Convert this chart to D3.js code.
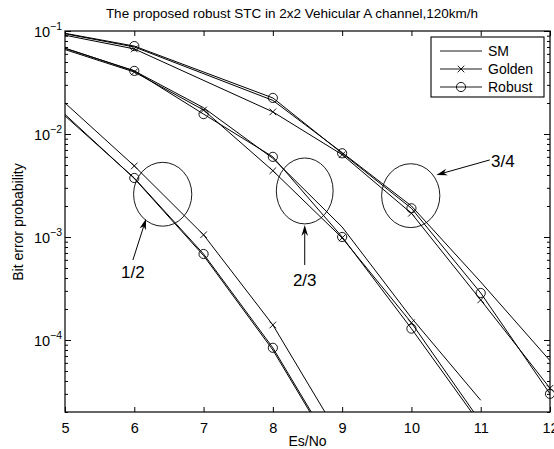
<!DOCTYPE html>
<html>
<head>
<meta charset="utf-8">
<script src="https://cdn.jsdelivr.net/npm/d3@7"></script>
<style>
  body { margin: 0; background: #fff; }
  svg { font-family: "Liberation Sans", Arial, sans-serif; }
</style>
</head>
<body>
<svg id="chart"></svg>
<script>
// data
const snr34 = [5, 6, 8, 9, 10, 11, 12];
const sm34 = [0.094, 0.070, 0.0212, 0.0066, 0.0020, 3.66e-4, 6.3e-5];
const golden34 = [0.091, 0.067, 0.0164, 0.0063, 0.0017, 2.45e-4, 3.4e-5];
const robust34 = [0.095, 0.0714, 0.0224, 0.0065, 0.0019, 2.86e-4, 3.0e-5];

const snr23 = [5, 6, 7, 8, 9, 10, 11];
const sm23 = [0.068, 0.041, 0.018, 0.0058, 0.00125, 1.64e-4, 2.6e-5];
const golden23 = [0.066, 0.040, 0.0171, 0.0044, 0.00098, 1.47e-4, 1.6e-5];
const robust23 = [0.068, 0.041, 0.0156, 0.0060, 0.0010, 1.29e-4, 1.5e-5];

const snr12 = [5, 6, 7, 8, 9];
const sm12 = [0.0155, 0.0037, 6.6e-4, 8.0e-5, 6.0e-6];
const golden12 = [0.020, 0.0049, 0.00105, 1.4e-4, 1.05e-5];
const robust12 = [0.015, 0.00374, 6.84e-4, 8.4e-5, 6.3e-6];

const xTicks = [5, 6, 7, 8, 9, 10, 11, 12];
const yTicks = [1e-1, 1e-2, 1e-3, 1e-4];
const legendNames = ["SM", "Golden", "Robust"];

// annotations in data units (ellipse radii: x units / decades)
const ellipses = [
  { x: 6.41, y: 2.6e-3, rx: 0.42, ry: 0.31 },
  { x: 8.46, y: 2.8e-3, rx: 0.41, ry: 0.32 },
  { x: 9.99, y: 2.52e-3, rx: 0.42, ry: 0.31 },
];
const arrows = [
  { label: "1/2", x0: 5.98, y0: 5.98e-4, x1: 6.17, y1: 1.5e-3, lx: 5.98, ly: 4.0e-4, anchor: "middle" },
  { label: "2/3", x0: 8.46, y0: 5.35e-4, x1: 8.46, y1: 1.31e-3, lx: 8.46, ly: 3.34e-4, anchor: "middle" },
  { label: "3/4", x0: 11.13, y0: 5.6e-3, x1: 10.36, y1: 4.0e-3, lx: 11.15, ly: 4.79e-3, anchor: "start" },
];

const width = 554;
const height = 449;
const padLeft = 65, padRight = 550, padTop = 31, padBottom = 412;

const svg = d3.select("#chart").attr("width", width).attr("height", height);

const x = d3.scaleLinear().domain([5, 12]).range([padLeft, padRight]);
const y = d3.scaleLog().domain([2e-5, 0.1]).range([padBottom, padTop]);

svg.append("defs").append("clipPath").attr("id", "clip")
  .append("rect").attr("x", padLeft).attr("y", padTop)
  .attr("width", padRight - padLeft).attr("height", padBottom - padTop);

// title and axis labels
svg.append("text").attr("x", 292).attr("y", 18).attr("text-anchor", "middle")
  .attr("font-size", 13.5).text("The proposed robust STC in 2x2 Vehicular A channel,120km/h");
svg.append("text").attr("x", (padLeft + padRight) / 2).attr("y", 446).attr("text-anchor", "middle")
  .attr("font-size", 14).text("Es/No");
svg.append("text").attr("transform", "translate(23," + 222 + ") rotate(-90)")
  .attr("text-anchor", "middle").attr("font-size", 14).text("Bit error probability");

// axes, ticks inward
const minor = [];
[1e-5, 1e-4, 1e-3, 1e-2].forEach((d) => {
  for (let k = 2; k <= 9; k++) {
    if (d * k >= 2e-5) minor.push(d * k);
  }
});

const xAxis = d3.axisBottom(x).tickValues(xTicks).tickSizeInner(-5).tickSizeOuter(0)
  .tickPadding(11).tickFormat(d3.format("d"));
svg.append("g").attr("transform", "translate(0," + padBottom + ")").call(xAxis)
  .call((g) => g.selectAll("text").attr("font-size", 14.5));
svg.append("g").attr("transform", "translate(0," + padTop + ")")
  .call(d3.axisTop(x).tickValues(xTicks).tickSizeInner(-5).tickSizeOuter(0).tickFormat(""));

const yAxis = d3.axisLeft(y).tickValues(yTicks).tickSizeInner(-6).tickSizeOuter(0).tickPadding(3).tickFormat("");
svg.append("g").attr("transform", "translate(" + padLeft + ",0)").call(yAxis)
  .call((g) => g.selectAll(".tick").append("text")
    .attr("x", -3).attr("dy", "0.35em").attr("text-anchor", "end").attr("fill", "#000")
    .attr("font-size", 14.5)
    .each(function (d) {
      const t = d3.select(this);
      t.append("tspan").text("10");
      t.append("tspan").attr("dy", "-0.6em").attr("font-size", 10.5)
        .text("\u2212" + Math.round(-Math.log10(d)));
    }));
svg.append("g").attr("transform", "translate(" + padLeft + ",0)")
  .call(d3.axisLeft(y).tickValues(minor).tickSizeInner(-3).tickSizeOuter(0).tickFormat(""));
svg.append("g").attr("transform", "translate(" + padRight + ",0)")
  .call(d3.axisRight(y).tickValues(yTicks).tickSizeInner(-6).tickSizeOuter(0).tickFormat(""));
svg.append("g").attr("transform", "translate(" + padRight + ",0)")
  .call(d3.axisRight(y).tickValues(minor).tickSizeInner(-3).tickSizeOuter(0).tickFormat(""));
svg.selectAll(".domain").remove();
svg.selectAll(".tick line").attr("stroke", "#000");
svg.selectAll("g").attr("font-family", null);

svg.append("rect").attr("x", padLeft).attr("y", padTop)
  .attr("width", padRight - padLeft).attr("height", padBottom - padTop)
  .attr("fill", "none").attr("stroke", "#000").attr("stroke-width", 1.2);

// curves
const series = [
  { xs: snr34, ys: sm34, marker: "none" },
  { xs: snr34, ys: golden34, marker: "x" },
  { xs: snr34, ys: robust34, marker: "o" },
  { xs: snr23, ys: sm23, marker: "none" },
  { xs: snr23, ys: golden23, marker: "x" },
  { xs: snr23, ys: robust23, marker: "o" },
  { xs: snr12, ys: sm12, marker: "none" },
  { xs: snr12, ys: golden12, marker: "x" },
  { xs: snr12, ys: robust12, marker: "o" },
];

const line = d3.line().x((d) => x(d[0])).y((d) => y(d[1]));

const drawMarker = (g, type, px, py) => {
  if (type === "o") {
    g.append("circle").attr("cx", px).attr("cy", py).attr("r", 4.6)
      .attr("fill", "none").attr("stroke", "#000").attr("stroke-width", 0.9);
  } else if (type === "x") {
    const s = 3.3;
    g.append("path")
      .attr("d", `M${px - s},${py - s}L${px + s},${py + s}M${px - s},${py + s}L${px + s},${py - s}`)
      .attr("stroke", "#000").attr("stroke-width", 0.9);
  }
};

const plot = svg.append("g");
series.forEach((s) => {
  const pts = s.xs.map((v, i) => [v, s.ys[i]]);
  plot.append("path").datum(pts).attr("clip-path", "url(#clip)")
    .attr("d", line).attr("fill", "none").attr("stroke", "#000").attr("stroke-width", 1);
  pts.filter((p) => p[0] > 5 && p[1] >= 2e-5).forEach((p) => drawMarker(plot, s.marker, x(p[0]), y(p[1])));
});

// annotations
const decade = y(1e-3) - y(1e-2);
ellipses.forEach((e) => {
  svg.append("ellipse").attr("cx", x(e.x)).attr("cy", y(e.y))
    .attr("rx", x(e.x + e.rx) - x(e.x)).attr("ry", e.ry * decade)
    .attr("fill", "none").attr("stroke", "#000").attr("stroke-width", 0.9);
});
arrows.forEach((a) => {
  const x0 = x(a.x0), y0 = y(a.y0), x1 = x(a.x1), y1 = y(a.y1);
  const ang = Math.atan2(y1 - y0, x1 - x0);
  const L = 11, W = 3.3;
  const bx = x1 - L * Math.cos(ang), by = y1 - L * Math.sin(ang);
  const nx = -Math.sin(ang), ny = Math.cos(ang);
  const mx = x1 - 0.7 * L * Math.cos(ang), my = y1 - 0.7 * L * Math.sin(ang);
  svg.append("line").attr("x1", x0).attr("y1", y0).attr("x2", mx).attr("y2", my)
    .attr("stroke", "#000").attr("stroke-width", 1);
  svg.append("path")
    .attr("d", `M${x1},${y1}L${bx + W * nx},${by + W * ny}L${mx},${my}L${bx - W * nx},${by - W * ny}Z`)
    .attr("fill", "#000");
  svg.append("text").attr("x", x(a.lx)).attr("y", y(a.ly)).attr("text-anchor", a.anchor)
    .attr("font-size", 17).text(a.label);
});

// legend
const legend = svg.append("g");
legend.append("rect").attr("x", 431).attr("y", 37).attr("width", 113).attr("height", 60)
  .attr("fill", "#fff").attr("stroke", "#000").attr("stroke-width", 1.1);
legendNames.forEach((name, i) => {
  const ly = 51 + i * 18;
  legend.append("line").attr("x1", 440).attr("x2", 482).attr("y1", ly).attr("y2", ly)
    .attr("stroke", "#000").attr("stroke-width", 0.9);
  drawMarker(legend, ["none", "x", "o"][i], 461, ly);
  legend.append("text").attr("x", 488).attr("y", ly).attr("dy", "0.36em")
    .attr("font-size", 14).text(name);
});
</script>
</body>
</html>
